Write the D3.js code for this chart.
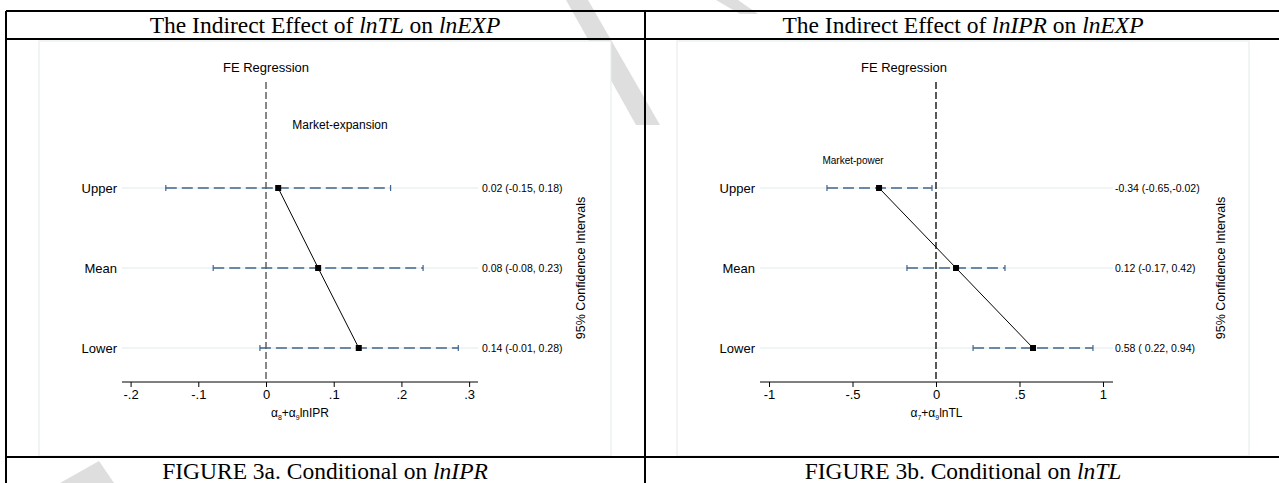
<html>
<head>
	<script src="https://d3js.org/d3.v7.min.js"></script>
	<title>Indirect effects</title>
	<style>
		body { margin:0; background:#fff; }
		text { font-family: "Liberation Sans", Arial, sans-serif; }
		.serif { font-family: "Liberation Serif", "Times New Roman", serif; }
	</style>
</head>
<body>
	<div id='chart'></div>
	<script>
		// data
		var categories = ['Upper', 'Mean', 'Lower'];

		var tlEst = [0.018, 0.077, 0.137];
		var tlLow = [-0.148, -0.078, -0.009];
		var tlHigh = [0.184, 0.232, 0.284];
		var tlLabels = ['0.02 (-0.15, 0.18)', '0.08 (-0.08, 0.23)', '0.14 (-0.01, 0.28)'];
		var tlTicks = [-0.2, -0.1, 0, 0.1, 0.2, 0.3];
		var tlTickLabels = ['-.2', '-.1', '0', '.1', '.2', '.3'];

		var iprEst = [-0.341, 0.12, 0.581];
		var iprLow = [-0.653, -0.174, 0.222];
		var iprHigh = [-0.024, 0.413, 0.94];
		var iprLabels = ['-0.34 (-0.65,-0.02)', '0.12 (-0.17, 0.42)', '0.58 ( 0.22, 0.94)'];
		var iprTicks = [-1, -0.5, 0, 0.5, 1];
		var iprTickLabels = ['-1', '-.5', '0', '.5', '1'];

		var W = 1279, H = 483;

		var svg = d3.select('#chart').append('svg')
			.attr('width', W)
			.attr('height', H);

		svg.append('rect').attr('width', W).attr('height', H).attr('fill', '#fff');

		// faint watermark behind the table (plot images cover most of it)
		var marks = [
			[[566,0],[588,0],[660,125],[636,125]],
			[[716,0],[738,0],[758,14],[740,14]],
			[[60,483],[99,461],[114,483]]
		];
		svg.selectAll('.wm').data(marks).enter().append('polygon')
			.attr('points', function(d){ return d.map(function(p){ return p.join(','); }).join(' '); })
			.attr('fill', '#dedede');

		// header / footer cells
		function cellText(x, y, parts) {
			var t = svg.append('text')
				.attr('class', 'serif')
				.attr('x', x)
				.attr('y', y)
				.attr('text-anchor', 'middle')
				.style('font-size', '23.5px')
				.attr('fill', '#000');
			parts.forEach(function(p){
				t.append('tspan')
					.style('font-style', p[1] ? 'italic' : 'normal')
					.text(p[0]);
			});
		}

		function drawPanel(o) {
			var g = svg.append('g');

			// the plot image
			g.append('rect')
				.attr('x', o.left).attr('y', 41)
				.attr('width', 572).attr('height', 415)
				.attr('fill', '#fff')
				.attr('stroke', '#e4eaea')
				.attr('stroke-width', 1);

			var x = d3.scaleLinear().domain(o.domain).range([o.left + 83, o.left + 83 + o.plotW]);
			var y = d3.scalePoint().domain(categories).range([188, 348]);

			var rows = categories.map(function(c, i){
				return {cat:c, est:o.est[i], lo:o.low[i], hi:o.high[i], lab:o.labels[i]};
			});

			// grid lines
			g.selectAll('.grid').data(rows).enter().append('line')
				.attr('x1', x.range()[0]).attr('x2', x.range()[1])
				.attr('y1', function(d){ return y(d.cat); })
				.attr('y2', function(d){ return y(d.cat); })
				.attr('stroke', '#eaf1f2')
				.attr('stroke-width', 1.6);

			// zero reference line
			g.append('line')
				.attr('x1', x(0)).attr('x2', x(0))
				.attr('y1', 82).attr('y2', 382)
				.attr('stroke', o.zeroColor)
				.attr('stroke-width', 1.4)
				.attr('stroke-dasharray', '7,3');

			// confidence intervals
			var ciColor = '#40648d';
			g.selectAll('.ci').data(rows).enter().append('line')
				.attr('x1', function(d){ return x(d.lo); })
				.attr('x2', function(d){ return x(d.hi); })
				.attr('y1', function(d){ return y(d.cat); })
				.attr('y2', function(d){ return y(d.cat); })
				.attr('stroke', ciColor)
				.attr('stroke-width', 1.4)
				.attr('stroke-dasharray', '11,5');
			['lo', 'hi'].forEach(function(k){
				g.selectAll('.cap-' + k).data(rows).enter().append('line')
					.attr('x1', function(d){ return x(d[k]); })
					.attr('x2', function(d){ return x(d[k]); })
					.attr('y1', function(d){ return y(d.cat) - 3; })
					.attr('y2', function(d){ return y(d.cat) + 3; })
					.attr('stroke', ciColor)
					.attr('stroke-width', 1.2);
			});

			// connecting line and markers
			var line = d3.line()
				.x(function(d){ return x(d.est); })
				.y(function(d){ return y(d.cat); });
			g.append('path')
				.datum(rows)
				.attr('d', line)
				.attr('fill', 'none')
				.attr('stroke', '#000')
				.attr('stroke-width', 1);
			g.selectAll('.pt').data(rows).enter().append('rect')
				.attr('x', function(d){ return x(d.est) - 3; })
				.attr('y', function(d){ return y(d.cat) - 3; })
				.attr('width', 6).attr('height', 6)
				.attr('fill', '#000');

			// category labels
			g.selectAll('.ylab').data(rows).enter().append('text')
				.attr('x', o.left + 78)
				.attr('y', function(d){ return y(d.cat) + 4.5; })
				.attr('text-anchor', 'end')
				.style('font-size', '13px')
				.text(function(d){ return d.cat; });

			// estimate labels on the right
			g.selectAll('.elab').data(rows).enter().append('text')
				.attr('x', o.left + o.labX)
				.attr('y', function(d){ return y(d.cat) + 4; })
				.style('font-size', '10.5px')
				.text(function(d){ return d.lab; });

			// x axis
			var axis = d3.axisBottom(x)
				.tickValues(o.ticks)
				.tickSize(5)
				.tickFormat(function(d, i){ return o.tickLabels[i]; });
			var ax = g.append('g')
				.attr('transform', 'translate(0,382)')
				.call(axis);
			ax.select('.domain').attr('d', 'M' + x.range()[0] + ',0H' + x.range()[1]).attr('stroke', '#000');
			ax.selectAll('.tick line').attr('stroke', '#000');
			ax.selectAll('.tick text')
				.attr('y', 8)
				.style('font-size', '13px')
				.style('font-family', '"Liberation Sans", Arial, sans-serif')
				.attr('fill', '#000');

			// x title with subscripts
			var xt = g.append('text')
				.attr('x', (x.range()[0] + x.range()[1]) / 2)
				.attr('y', 417)
				.attr('text-anchor', 'middle')
				.style('font-size', '12px');
			xt.append('tspan').text('α');
			xt.append('tspan').attr('dy', 3).style('font-size', '7px').text(o.sub1);
			xt.append('tspan').attr('dy', -3).text('+α');
			xt.append('tspan').attr('dy', 3).style('font-size', '7px').text('9');
			xt.append('tspan').attr('dy', -3).text(o.xvar);

			// right-side title
			g.append('text')
				.attr('transform', 'translate(' + (o.left + o.ytX) + ',268) rotate(-90)')
				.attr('text-anchor', 'middle')
				.style('font-size', '12.5px')
				.text('95% Confidence Intervals');

			g.append('text')
				.attr('x', o.left + 227)
				.attr('y', 72)
				.attr('text-anchor', 'middle')
				.style('font-size', '13px')
				.text('FE Regression');

			g.append('text')
				.attr('x', o.noteX)
				.attr('y', o.noteY)
				.attr('text-anchor', 'middle')
				.style('font-size', o.noteSize)
				.text(o.note);
		}

		drawPanel({
			left: 39, plotW: 356, domain: [-0.2127, 0.3131],
			est: tlEst, low: tlLow, high: tlHigh, labels: tlLabels,
			ticks: tlTicks, tickLabels: tlTickLabels,
			labX: 443, ytX: 546, zeroColor: '#555',
			sub1: '8', xvar: 'lnIPR',
			note: 'Market-expansion', noteX: 340, noteY: 129, noteSize: '12px'
		});

		drawPanel({
			left: 677, plotW: 353, domain: [-1.054, 1.06],
			est: iprEst, low: iprLow, high: iprHigh, labels: iprLabels,
			ticks: iprTicks, tickLabels: iprTickLabels,
			labX: 438, ytX: 548, zeroColor: '#111',
			sub1: '7', xvar: 'lnTL',
			note: 'Market-power', noteX: 853, noteY: 164, noteSize: '10px'
		});

		// table rules
		var rules = [
			[6, 11, 1279, 11], [6, 39, 1279, 39], [6, 457, 1279, 457],
			[6, 11, 6, 483], [645, 11, 645, 483]
		];
		svg.selectAll('.rule').data(rules).enter().append('line')
			.attr('x1', function(d){ return d[0]; })
			.attr('y1', function(d){ return d[1]; })
			.attr('x2', function(d){ return d[2]; })
			.attr('y2', function(d){ return d[3]; })
			.attr('stroke', '#000')
			.attr('stroke-width', 2);

		cellText(325, 33, [['The Indirect Effect of ', 0], ['lnTL', 1], [' on ', 0], ['lnEXP', 1]]);
		cellText(963, 33, [['The Indirect Effect of ', 0], ['lnIPR', 1], [' on ', 0], ['lnEXP', 1]]);
		cellText(325, 479, [['FIGURE 3a. Conditional on ', 0], ['lnIPR', 1]]);
		cellText(963, 479, [['FIGURE 3b. Conditional on ', 0], ['lnTL', 1]]);
	</script>
</body>
</html>
